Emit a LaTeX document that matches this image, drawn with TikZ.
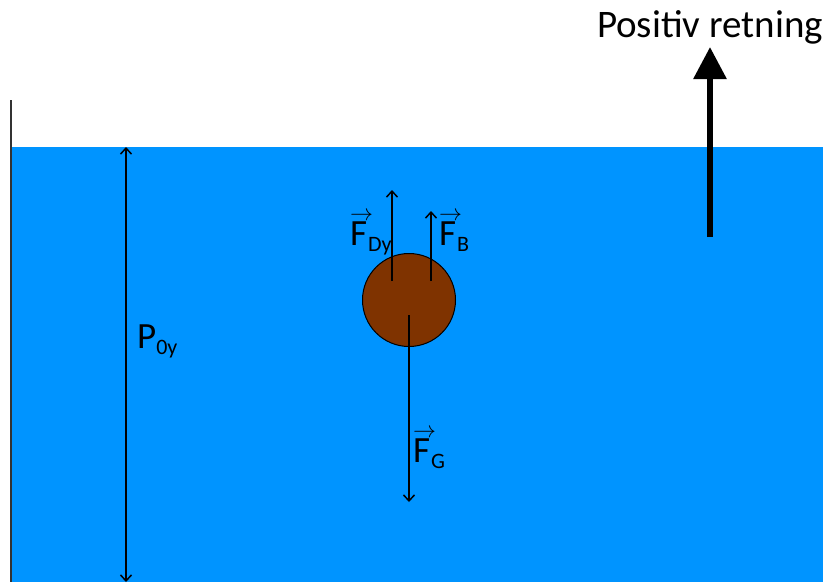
\documentclass[tikz,border=0pt]{standalone}
\usepackage{fontspec}
\setmainfont{Carlito}
\usepackage{tikz}
\usetikzlibrary{arrows.meta,positioning}
\definecolor{fdWater}{HTML}{0094FF}
\definecolor{fdBall}{HTML}{7F3300}
\definecolor{fdWall}{HTML}{333333}
\newlength\fdFwidth
\newcommand\vecF{\settowidth\fdFwidth{F}\leavevmode\rlap{\raisebox{0.66em}{\resizebox{1.35\fdFwidth}{!}{$\rightarrow$}}}F\kern1pt}
\newcommand\lowsub[1]{\raisebox{-6pt}{\fontsize{22}{24}\selectfont #1}}
\tikzset{
  fd diagram/.style={font=\fontsize{37}{42}\selectfont, text=black,
    line join=round},
  fd force/.style={-{Straight Barb[length=6pt,width=11pt]}, draw=black,
    line width=1.5pt},
  fd pressure/.style={fd force, {Straight Barb[length=6pt,width=11pt]}-{Straight Barb[length=6pt,width=11pt]}},
  fd positive/.style={-{Triangle[width=32pt,length=32pt]}, draw=black,
    line width=6pt},
  fd label/.style={inner sep=0pt, anchor=base west}
}
\begin{document}
\begin{tikzpicture}[fd diagram,x=1pt,y=-1pt]
\useasboundingbox (0,0) rectangle (823,582);
% water and wall
\fill[fdWater] (11,147) rectangle (823,582);
\draw[fdWall,line width=2pt] (11,100) -- (11,582);
% ball
\node[circle,draw=black,line width=1pt,fill=fdBall,minimum size=93pt,inner sep=0pt] (ball) at (409,300) {};
% force arrows
\coordinate (dyStart) at (392,281);
\coordinate (dyEnd) at (392,190);
\coordinate (bStart) at (431,281);
\coordinate (bEnd) at (431,211);
\coordinate (gStart) at (409,315);
\coordinate (gEnd) at (409,502);
\draw[fd force] (dyStart) -- (dyEnd);
\draw[fd force] (bStart) -- (bEnd);
\draw[fd force] (gStart) -- (gEnd);
\node[fd label] (fdy) at (350,245) {\vecF\lowsub{Dy}};
\node[fd label] (fb) at (439,245) {\vecF\lowsub{B}};
\node[fd label] (fg) at (413,462) {\vecF\lowsub{G}};
% pressure
\coordinate (pTop) at (126,147);
\coordinate (pBottom) at (126,582);
\draw[fd pressure] (pTop) -- (pBottom);
\node[fd label] (p0y) at (137,348) {P\lowsub{0y}};
% positive direction
\coordinate (posStart) at (710,237);
\coordinate (posEnd) at (710,47);
\draw[fd positive] (posStart) -- (posEnd);
\node[inner sep=0pt,anchor=base,font=\fontsize{39}{44}\selectfont] (posText) at (710,37) {Positiv retning};
\end{tikzpicture}
\end{document}
